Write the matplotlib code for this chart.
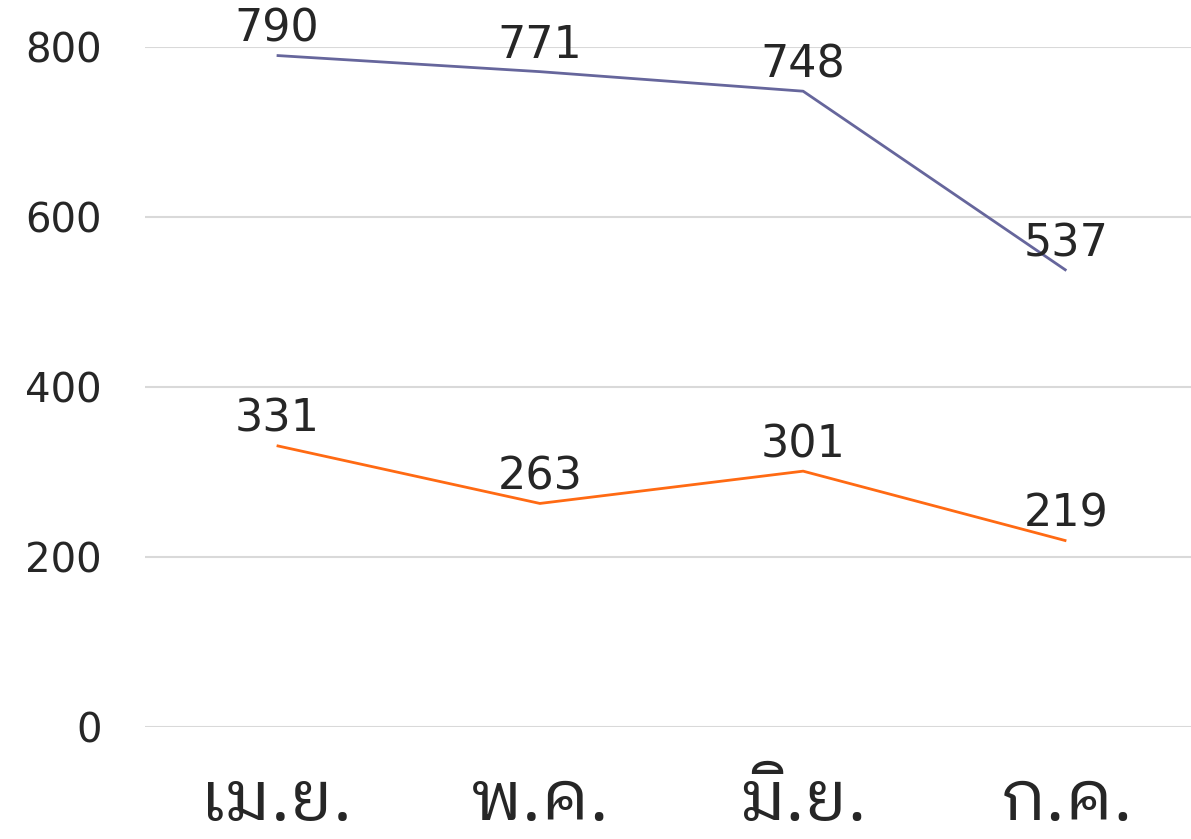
import matplotlib
matplotlib.use("Agg")
import matplotlib.pyplot as plt
from matplotlib import font_manager
from matplotlib.ft2font import FT2Font

months = ["เม.ย.", "พ.ค.", "มิ.ย.", "ก.ค."]
series_top = [790, 771, 748, 537]
series_bottom = [331, 263, 301, 219]
yticks = [0, 200, 400, 600, 800]

# find a font with Thai glyphs, preferring a looped style
candidates = []
for f in font_manager.fontManager.ttflist:
    try:
        ft = FT2Font(f.fname)
        if ord("ม") in ft.get_charmap():
            candidates.append(f.name)
    except Exception:
        pass

def rank(name):
    n = name.lower()
    if "looped" in n:
        return 0
    if "serif" in n:
        return 1
    return 2

candidates.sort(key=rank)
thai_family = candidates[0] if candidates else None
label_families = ([thai_family] if thai_family else []) + ["DejaVu Sans"]

plt.rcParams["font.family"] = ["DejaVu Sans"]

fig = plt.figure(figsize=(11.91, 8.39), dpi=100)
ax = fig.add_axes([145 / 1191, 112 / 839, 1053 / 1191, 680 / 839])

x = list(range(len(months)))
ax.plot(x, series_top, color="#66669c", lw=2.0, solid_capstyle="butt", zorder=3)
ax.plot(x, series_bottom, color="#ff6a13", lw=2.0, solid_capstyle="butt", zorder=3)

for xs, ys in ((x, series_top), (x, series_bottom)):
    for xi, yi in zip(xs, ys):
        ax.annotate(str(yi), (xi, yi), xytext=(0, 19), textcoords="offset points",
                    ha="center", va="center", fontsize=32, color="#262626", zorder=4)

ax.set_xlim(-0.5, 3.5)
ax.set_ylim(0, 800)
ax.set_yticks(yticks)
ax.set_yticklabels([str(v) for v in yticks], fontsize=29, color="#262626")
ax.yaxis.grid(True, color="#d9d9d9", lw=1.5)
ax.set_axisbelow(True)
ax.tick_params(axis="y", length=0, pad=31)
ax.tick_params(axis="x", length=0, pad=67)
ax.set_xticks(x)
ax.set_xticklabels(months, fontsize=50, color="#262626", family=label_families)
for lbl in ax.get_xticklabels():
    lbl.set_va("baseline")
for s in ax.spines.values():
    s.set_visible(False)

fig.savefig("out.png", dpi=100)
